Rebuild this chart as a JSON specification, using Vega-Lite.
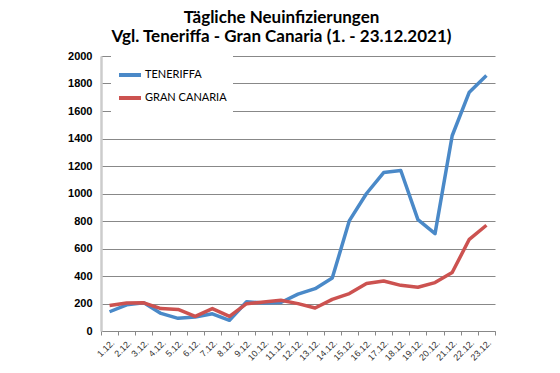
{
  "$schema": "https://vega.github.io/schema/vega-lite/v6.json",
  "width": 394,
  "height": 275,
  "autosize": "none",
  "padding": {"left": 101, "top": 56, "right": 65, "bottom": 42},
  "background": "white",
  "title": {
    "text": ["Tägliche Neuinfizierungen", "Vgl. Teneriffa - Gran Canaria (1. - 23.12.2021)"],
    "font": "Lato",
    "fontSize": 17,
    "fontWeight": "bold",
    "color": "black",
    "anchor": "middle",
    "frame": "bounds",
    "lineHeight": 19,
    "offset": 4
  },
  "data": {
    "values": [
      {"day": "1.12.", "island": "TENERIFFA", "value": 140},
      {"day": "2.12.", "island": "TENERIFFA", "value": 190},
      {"day": "3.12.", "island": "TENERIFFA", "value": 205},
      {"day": "4.12.", "island": "TENERIFFA", "value": 128},
      {"day": "5.12.", "island": "TENERIFFA", "value": 92},
      {"day": "6.12.", "island": "TENERIFFA", "value": 102},
      {"day": "7.12.", "island": "TENERIFFA", "value": 125},
      {"day": "8.12.", "island": "TENERIFFA", "value": 78},
      {"day": "9.12.", "island": "TENERIFFA", "value": 213},
      {"day": "10.12.", "island": "TENERIFFA", "value": 203},
      {"day": "11.12.", "island": "TENERIFFA", "value": 207},
      {"day": "12.12.", "island": "TENERIFFA", "value": 268},
      {"day": "13.12.", "island": "TENERIFFA", "value": 308},
      {"day": "14.12.", "island": "TENERIFFA", "value": 385},
      {"day": "15.12.", "island": "TENERIFFA", "value": 803},
      {"day": "16.12.", "island": "TENERIFFA", "value": 1000},
      {"day": "17.12.", "island": "TENERIFFA", "value": 1152},
      {"day": "18.12.", "island": "TENERIFFA", "value": 1167},
      {"day": "19.12.", "island": "TENERIFFA", "value": 810},
      {"day": "20.12.", "island": "TENERIFFA", "value": 708},
      {"day": "21.12.", "island": "TENERIFFA", "value": 1420},
      {"day": "22.12.", "island": "TENERIFFA", "value": 1737},
      {"day": "23.12.", "island": "TENERIFFA", "value": 1858},
      {"day": "1.12.", "island": "GRAN CANARIA", "value": 185},
      {"day": "2.12.", "island": "GRAN CANARIA", "value": 204},
      {"day": "3.12.", "island": "GRAN CANARIA", "value": 205},
      {"day": "4.12.", "island": "GRAN CANARIA", "value": 163},
      {"day": "5.12.", "island": "GRAN CANARIA", "value": 157},
      {"day": "6.12.", "island": "GRAN CANARIA", "value": 107},
      {"day": "7.12.", "island": "GRAN CANARIA", "value": 163},
      {"day": "8.12.", "island": "GRAN CANARIA", "value": 107},
      {"day": "9.12.", "island": "GRAN CANARIA", "value": 199},
      {"day": "10.12.", "island": "GRAN CANARIA", "value": 211},
      {"day": "11.12.", "island": "GRAN CANARIA", "value": 223},
      {"day": "12.12.", "island": "GRAN CANARIA", "value": 199},
      {"day": "13.12.", "island": "GRAN CANARIA", "value": 167},
      {"day": "14.12.", "island": "GRAN CANARIA", "value": 230},
      {"day": "15.12.", "island": "GRAN CANARIA", "value": 272},
      {"day": "16.12.", "island": "GRAN CANARIA", "value": 345},
      {"day": "17.12.", "island": "GRAN CANARIA", "value": 364},
      {"day": "18.12.", "island": "GRAN CANARIA", "value": 332},
      {"day": "19.12.", "island": "GRAN CANARIA", "value": 318},
      {"day": "20.12.", "island": "GRAN CANARIA", "value": 352},
      {"day": "21.12.", "island": "GRAN CANARIA", "value": 425},
      {"day": "22.12.", "island": "GRAN CANARIA", "value": 667},
      {"day": "23.12.", "island": "GRAN CANARIA", "value": 769}
    ]
  },
  "mark": {"type": "line", "strokeWidth": 3.5, "strokeJoin": "round"},
  "encoding": {
    "x": {
      "field": "day",
      "type": "ordinal",
      "sort": null,
      "scale": {"type": "band", "paddingInner": 0, "paddingOuter": 0},
      "axis": {
        "title": null,
        "labelAngle": -45,
        "labelFont": "Liberation Sans",
        "labelFontSize": 9,
        "labelColor": "#333333",
        "tickBand": "extent",
        "tickColor": "#888888",
        "tickSize": 4,
        "domainColor": "#888888",
        "domainWidth": 1,
        "labelPadding": 3,
        "grid": false
      }
    },
    "y": {
      "field": "value",
      "type": "quantitative",
      "scale": {"domain": [0, 2000], "nice": false},
      "axis": {
        "title": null,
        "format": "d",
        "values": [0, 200, 400, 600, 800, 1000, 1200, 1400, 1600, 1800, 2000],
        "labelFont": "Liberation Sans",
        "labelFontSize": 11,
        "labelFontWeight": "bold",
        "labelColor": "black",
        "labelPadding": 9,
        "ticks": false,
        "domainColor": "#cccccc",
        "domainWidth": 2.5,
        "grid": true,
        "gridColor": "#888888",
        "gridWidth": 1
      }
    },
    "color": {
      "field": "island",
      "type": "nominal",
      "scale": {"domain": ["TENERIFFA", "GRAN CANARIA"], "range": ["#4A89C8", "#CC5250"]},
      "legend": {
        "title": null,
        "orient": "none",
        "legendX": 10,
        "legendY": 0,
        "fillColor": "white",
        "padding": 6,
        "symbolType": "stroke",
        "symbolSize": 484,
        "symbolStrokeWidth": 4,
        "labelFont": "Lato",
        "labelFontSize": 11,
        "labelColor": "black",
        "labelOffset": 2,
        "rowPadding": 2
      }
    }
  },
  "config": {"view": {"stroke": null}}
}
